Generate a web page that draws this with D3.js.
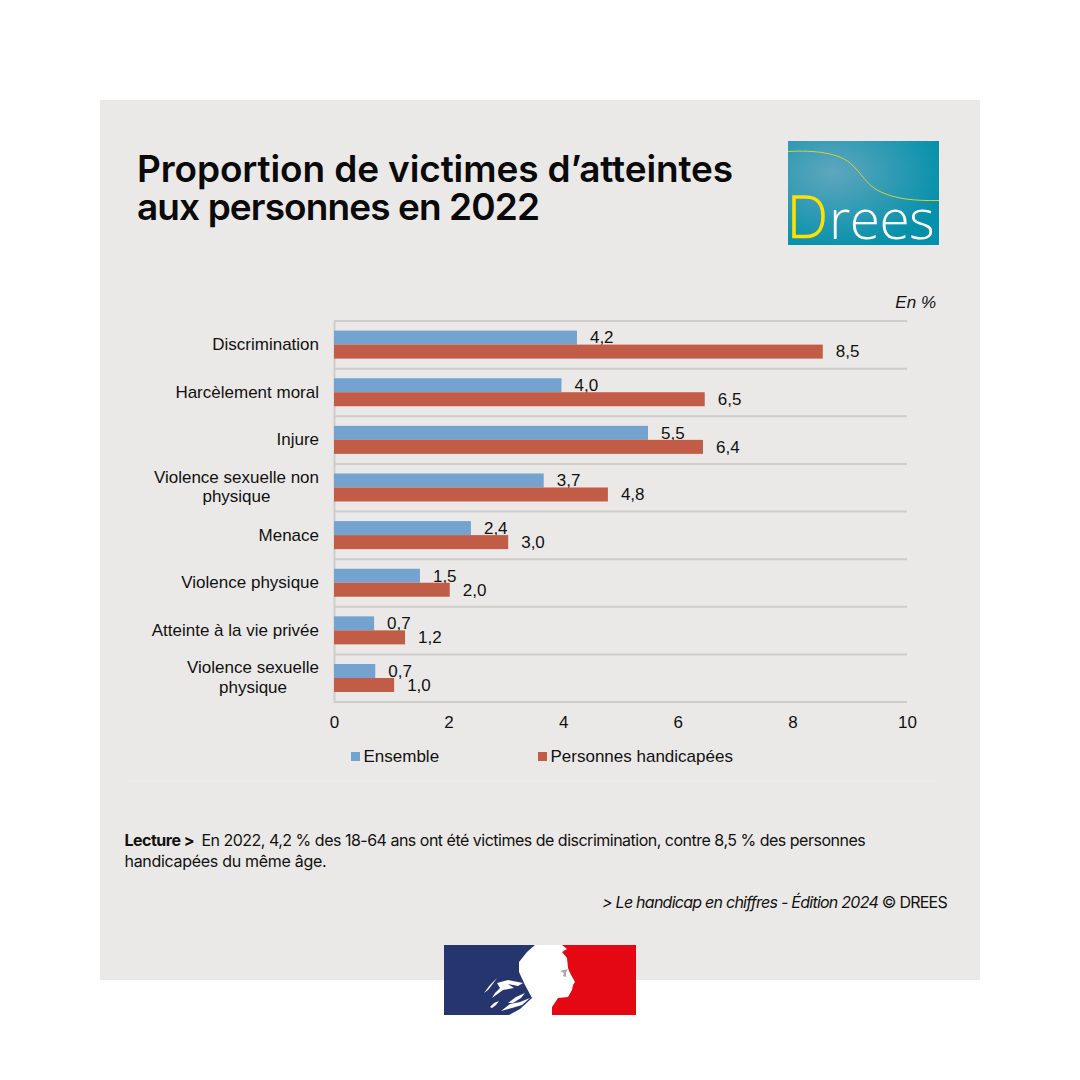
<!DOCTYPE html>
<html><head><meta charset="utf-8">
<script src="https://cdn.jsdelivr.net/npm/d3@7"></script>
<style>html,body{margin:0;padding:0;background:#fff}svg{display:block}</style></head>
<body><svg id="c" width="1080" height="1080"></svg>
<script>
const categories = ["Discrimination","Harcèlement moral","Injure","Violence sexuelle non|physique","Menace","Violence physique","Atteinte à la vie privée","Violence sexuelle|physique"];
const ensemble = [4.24,3.97,5.48,3.66,2.39,1.5,0.7,0.72];
const handicap = [8.53,6.47,6.44,4.78,3.04,2.02,1.24,1.05];
const ensembleLabels = ["4,2","4,0","5,5","3,7","2,4","1,5","0,7","0,7"];
const handicapLabels = ["8,5","6,5","6,4","4,8","3,0","2,0","1,2","1,0"];
const xTicks = [0,2,4,6,8,10];
const seriesNames = ["Ensemble","Personnes handicapées"];
const colors = ["#74a3cf","#c15c47"];
const svg = d3.select("#c");
const ARIAL = "'Liberation Sans',Arial,sans-serif", UI = "Inter,'Open Sans',sans-serif";
svg.append("rect").attr("x",100).attr("y",100).attr("width",880).attr("height",880).attr("fill","#ebe9e7");

// title
const t = svg.append("g").attr("font-family",UI).attr("font-weight",600).attr("font-size",37).attr("fill","#0a0a0a");
t.append("text").attr("x",137).attr("y",182).attr("letter-spacing","-0.12").text("Proportion de victimes d’atteintes");
t.append("text").attr("x",137).attr("y",220).attr("letter-spacing","-0.9").text("aux personnes en 2022");

// Drees logo
const defs = svg.append("defs");
const g = defs.append("radialGradient").attr("id","lg").attr("cx","0.3").attr("cy","0.3").attr("r","0.75");
g.append("stop").attr("offset","0").attr("stop-color","#5fa6bd");
g.append("stop").attr("offset","1").attr("stop-color","#0591ab");
const logo = svg.append("g");
logo.append("rect").attr("x",788).attr("y",141).attr("width",151).attr("height",104).attr("fill","url(#lg)");
logo.append("path").attr("d","M788,151.5C815,150 838,153 850,163C862,173 866,185 880,191.5C895,199 915,201 939,200.5").attr("fill","none").attr("stroke","#d8d03a").attr("stroke-width",1);
logo.append("path").attr("d","M794,197H806C818,197 823,205 823,216.5C823,228 818,236.5 806,236.5H794Z").attr("fill","none").attr("stroke","#ffe000").attr("stroke-width",3.6);
logo.append("text").attr("x",829).attr("y",238.5).attr("font-family","'Open Sans',sans-serif").attr("font-weight",300).attr("font-size",55).attr("letter-spacing","-0.6").attr("fill","#fff").text("rees");

// chart
const x = d3.scaleLinear().domain([0,10]).range([334,907]);
const y = d3.scaleBand().domain(d3.range(categories.length)).range([321,702]);
const ln = "#cfcdcb";
const FS = 17;
svg.append("text").attr("x",936).attr("y",308).attr("text-anchor","end").attr("font-family",ARIAL).attr("font-style","italic").attr("font-size",17).attr("fill","#111").text("En %");
const yAxis = d3.axisLeft(y).tickValues(d3.range(categories.length)).tickSize(0).tickFormat("");
const gy = svg.append("g").attr("transform","translate(334,0)").call(yAxis);
gy.select(".domain").attr("stroke",ln).attr("stroke-width",2);
svg.append("g").selectAll("line").data(d3.range(categories.length+1)).join("line")
  .attr("x1",x(0)).attr("x2",x(10))
  .attr("y1",i=>i<categories.length?y(i):y.range()[1]).attr("y2",i=>i<categories.length?y(i):y.range()[1])
  .attr("stroke",ln).attr("stroke-width",2);
const bh = 14;
[ensemble,handicap].forEach((vals,s)=>{
  const labs = s?handicapLabels:ensembleLabels;
  const top = i=>y(i)+y.bandwidth()/2-bh+s*bh-0.2;
  svg.append("g").selectAll("rect").data(vals).join("rect")
    .attr("x",x(0)).attr("y",(d,i)=>top(i)).attr("width",d=>x(d)-x(0)).attr("height",bh).attr("fill",colors[s]);
  svg.append("g").selectAll("text").data(vals).join("text")
    .attr("x",d=>x(d)+13).attr("y",(d,i)=>top(i)+bh-1.2)
    .attr("font-family",ARIAL).attr("font-size",FS).attr("fill","#111").text((d,i)=>labs[i]);
});
categories.forEach((c,i)=>{
  const parts=c.split("|");
  const cy=y(i)+y.bandwidth()/2;
  if(parts.length===1){
    svg.append("text").attr("x",319).attr("y",cy+5.2).attr("text-anchor","end").attr("font-family",ARIAL).attr("font-size",FS).attr("fill","#111").text(c);
  } else {
    const lab=svg.append("text").attr("text-anchor","middle").attr("font-family",ARIAL).attr("font-size",FS).attr("fill","#111");
    const probe=lab.append("tspan").text(parts[0]);
    const wid=probe.node().getComputedTextLength();
    probe.remove();
    const cx=319-wid/2;
    parts.forEach((p,k)=>lab.append("tspan").attr("x",cx).attr("y",cy-5+k*19.5).text(p));
  }
});
const xAxis = d3.axisBottom(x).tickValues(xTicks).tickSize(0).tickFormat(d=>d);
const gx = svg.append("g").attr("transform","translate(0,702)").call(xAxis);
gx.select(".domain").remove();
gx.selectAll("text").attr("y",14).attr("dy",0).attr("dominant-baseline","hanging").attr("font-family",ARIAL).attr("font-size",FS).attr("fill","#111");

// legend
const lx=[351,538];
seriesNames.forEach((n,i)=>{
  svg.append("rect").attr("x",lx[i]).attr("y",752).attr("width",9).attr("height",9).attr("fill",colors[i]);
  svg.append("text").attr("x",lx[i]+12.5).attr("y",762).attr("font-family",ARIAL).attr("font-size",FS).attr("fill","#111").text(n);
});
svg.append("line").attr("x1",125).attr("x2",940).attr("y1",781).attr("y2",781).attr("stroke","#eeecea").attr("stroke-width",1);

// note
const nt=svg.append("g").attr("font-family",UI).attr("font-size",16).attr("letter-spacing","-0.5").attr("fill","#111");
const l1=nt.append("text").attr("x",124.5).attr("y",846);
l1.append("tspan").attr("font-weight",700).text("Lecture > ");
l1.append("tspan").attr("dx",4).text("En 2022, 4,2 % des 18-64 ans ont été victimes de discrimination, contre 8,5 % des personnes");
nt.append("text").attr("x",124.5).attr("y",867).attr("letter-spacing","-0.3").text("handicapées du même âge.");
const src=nt.append("text").attr("x",947).attr("y",908).attr("text-anchor","end").attr("letter-spacing","-0.75");
src.append("tspan").attr("font-style","italic").text("> Le handicap en chiffres - Édition 2024 ");
src.append("tspan").text("© DREES");

// Marianne block
const m=svg.append("g");
m.append("rect").attr("x",444).attr("y",945).attr("width",100).attr("height",70).attr("fill","#27356f");
m.append("rect").attr("x",540).attr("y",945).attr("width",96).attr("height",70).attr("fill","#e30812");
m.append("path").attr("fill","#fff").attr("d","M535,945L562,945L567,949L562,952L567,958L568,968L570,973L575,982L573,985L572,990L568,997L558,998L552,1007L552,1015L509,1015L520,1009L532,998L525,985L519,972L519,962L527,952Z");
m.append("path").attr("fill","#a9a9a9").attr("d","M560,971L568,969L566,972L566,977L563,976L564,973Z");
// hair strands
const strands=[
 "M484,993L490,985L497,978L492,985L488,990Z",
 "M497,983L508,980L523,983L518,986L508,984L514,988L503,990L492,998L495,993L500,988Z",
 "M508,1003L516,997L525,993L521,998L513,1003Z",
 "M490,1007L494,1003L499,1001L496,1005L492,1008Z",
 "M501,1011L510,1004L520,1002L530,998L522,1005L512,1008Z"
];
m.selectAll("path.s").data(strands).join("path").attr("class","s").attr("fill","#fff").attr("d",d=>d);
</script></body></html>
